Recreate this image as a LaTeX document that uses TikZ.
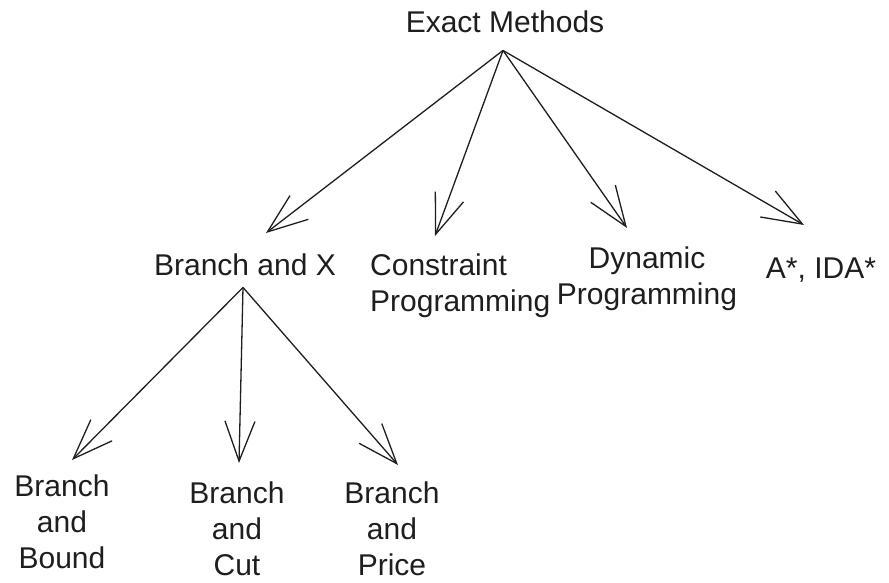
\documentclass[tikz,border=0pt]{standalone}
\usepackage{fontspec}
\setmainfont{Liberation Sans}
\usepackage{tikz}
\usetikzlibrary{arrows.meta,calc}
\definecolor{ink}{HTML}{1E1E1E}

\begin{document}
\begin{tikzpicture}[x=1pt, y=-1pt, every node/.style={font=\fontsize{30}{36}\selectfont, inner sep=0pt, anchor=north, align=center, text=ink}, arr/.style={draw=ink, line width=1.3pt, -{Straight Barb[length=40pt,width=30pt]}}]
\useasboundingbox (0,0) rectangle (889,583);
\node (em) at (505,11) {Exact Methods};
\node (bx) at (245,254) {Branch and X};
\node (cp) [anchor=north west, align=left] at (370,254) {Constraint\\Programming};
\node (dp) at (647,247) {Dynamic\\Programming};
\node (ida) at (821,258) {A*, IDA*};
\node (bb) at (62,475) {Branch\\and\\Bound};
\node (bc) at (237,482) {Branch\\and\\Cut};
\node (bp) at (392,482) {Branch\\and\\Price};
\coordinate (top) at ($(em.south)+(-2,17)$);
\coordinate (mid) at ($(bx.south)+(-2,11)$);
\draw[arr] (top)--($(bx.north)+(21,-21)$); \draw[arr] (top)--($(cp.north west)+(65,-18)$);
\draw[arr] (top)--($(dp.north)+(-20,-19)$); \draw[arr] (top)--($(ida.north)+(-17,-33)$);
\draw[arr] (mid)--($(bb.north)+(10,-15)$); \draw[arr] (mid)--($(bc.north)+(2,-19)$); \draw[arr] (mid)--($(bp.north)+(6,-17)$);
\end{tikzpicture}
\end{document}
